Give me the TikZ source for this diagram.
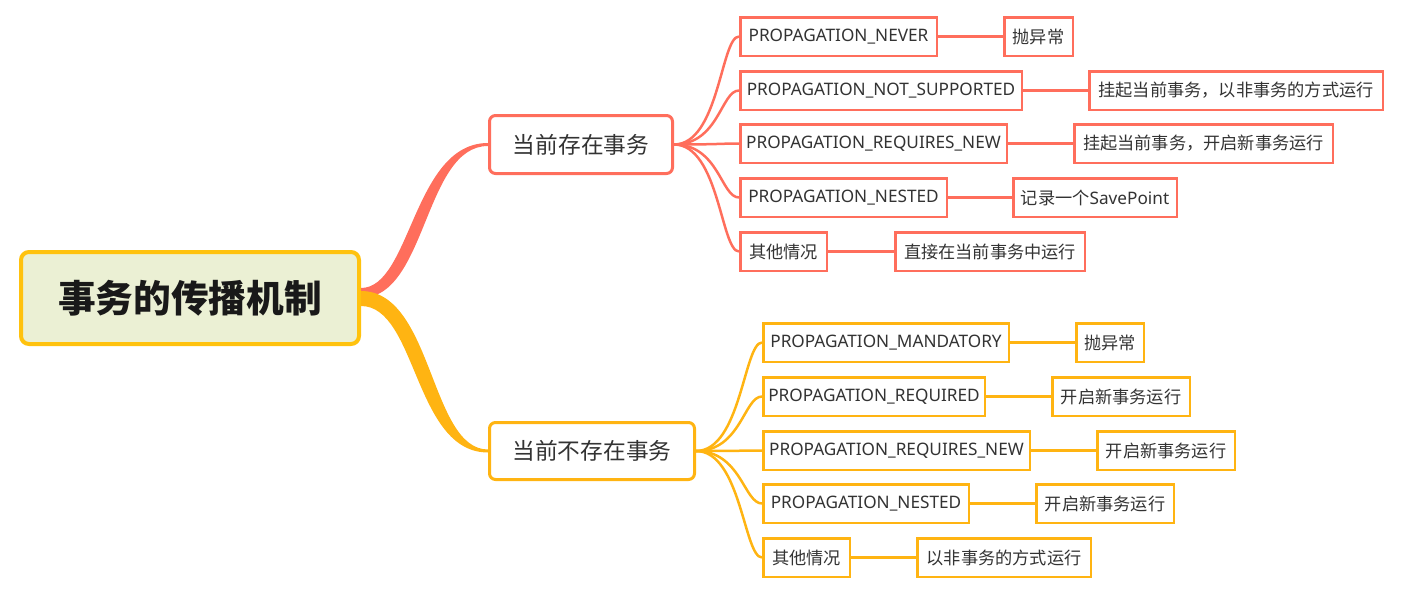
\documentclass[tikz,border=0pt]{standalone}
\usepackage{fontspec}
\setmainfont{Noto Sans}
\newfontfamily\cjk{Noto Sans CJK SC}
\usetikzlibrary{calc}
\definecolor{cred}{HTML}{FF6E5C}
\definecolor{cyel}{HTML}{FFB412}
\definecolor{cgold}{HTML}{FFC20E}
\definecolor{rootfill}{HTML}{EBF0D4}
\definecolor{txt}{HTML}{333333}
\begin{document}
\begin{tikzpicture}[x=1pt,y=-1pt,
  rootbox/.style={draw=cgold, line width=4pt, fill=rootfill, rounded corners=8pt,
    minimum width=338pt, minimum height=92pt, inner sep=0pt, text=black!90,
    font=\cjk\bfseries\fontsize{37.7}{40}\selectfont},
  branch/.style={line width=3pt, fill=white, rounded corners=6pt, inner sep=0pt,
    text=txt, font=\cjk\fontsize{22.7}{26}\selectfont},
  leaf/.style={line width=2.5pt, fill=white, minimum height=38.5pt, inner sep=0pt,
    text=txt, font=\fontsize{17.2}{20}\selectfont, anchor=west},
  cjkleaf/.style={font=\cjk\fontsize{17.2}{20}\selectfont},
  redleaf/.style={leaf, draw=cred},
  yelleaf/.style={leaf, draw=cyel},
  redline/.style={draw=cred, line width=2.5pt},
  yelline/.style={draw=cyel, line width=2.5pt}]
\useasboundingbox (0,0) rectangle (1409,589);

% root and branches
\node[rootbox] (root) at (190,298) {事务的传播机制};
\node[branch, draw=cred, minimum width=183pt, minimum height=58pt] (rb) at (581,144.5) {当前存在事务};
\node[branch, draw=cyel, minimum width=205pt, minimum height=57pt] (yb) at (592,451) {当前不存在事务};

% tapered main connectors
\fill[cred] ($(root.east)+(0,-10)$) .. controls +(50,0) and +(-75,0) .. ($(rb.west)+(0,-1.5)$)
  -- ($(rb.west)+(0,1.5)$) .. controls +(-64,0) and +(66,0) .. ($(root.east)+(0,0)$) -- cycle;
\fill[cyel] ($(root.east)+(0,-7)$) .. controls +(72,0) and +(-58,0) .. ($(yb.west)+(0,-1.5)$)
  -- ($(yb.west)+(0,1.5)$) .. controls +(-74,0) and +(56,0) .. ($(root.east)+(0,8)$) -- cycle;

% red leaves
\node[redleaf, minimum width=196.5pt] (r1) at (739,36.5) {PROPAGATION\_NEVER};
\node[redleaf, minimum width=281.5pt] (r2) at (739,90.5) {PROPAGATION\_NOT\_SUPPORTED};
\node[redleaf, minimum width=266.5pt] (r3) at (739,143.5) {PROPAGATION\_REQUIRES\_NEW};
\node[redleaf, minimum width=206.5pt] (r4) at (739,197.5) {PROPAGATION\_NESTED};
\node[redleaf, cjkleaf, minimum width=86.5pt] (r5) at (739,251.5) {其他情况};

\node[redleaf, cjkleaf, minimum width=68.5pt] (rc1) at (1003,36.5) {抛异常};
\node[redleaf, cjkleaf, minimum width=293.5pt] (rc2) at (1088,90.5) {挂起当前事务，以非事务的方式运行};
\node[redleaf, cjkleaf, minimum width=258.5pt] (rc3) at (1073,143.5) {挂起当前事务，开启新事务运行};
\node[redleaf, minimum width=163.5pt] (rc4) at (1012,197.5) {{\cjk 记录一个}SavePoint};
\node[redleaf, cjkleaf, minimum width=189.5pt] (rc5) at (894,251.5) {直接在当前事务中运行};

% yellow leaves
\node[yelleaf, minimum width=245.5pt] (y1) at (762,342.5) {PROPAGATION\_MANDATORY};
\node[yelleaf, minimum width=221.5pt] (y2) at (762,396.5) {PROPAGATION\_REQUIRED};
\node[yelleaf, minimum width=266.5pt] (y3) at (762,450.5) {PROPAGATION\_REQUIRES\_NEW};
\node[yelleaf, minimum width=205.5pt] (y4) at (762,503.5) {PROPAGATION\_NESTED};
\node[yelleaf, cjkleaf, minimum width=86.5pt] (y5) at (762,557.5) {其他情况};

\node[yelleaf, cjkleaf, minimum width=67.5pt] (yc1) at (1075,342.5) {抛异常};
\node[yelleaf, cjkleaf, minimum width=137.5pt] (yc2) at (1051,396.5) {开启新事务运行};
\node[yelleaf, cjkleaf, minimum width=137.5pt] (yc3) at (1096,450.5) {开启新事务运行};
\node[yelleaf, cjkleaf, minimum width=137.5pt] (yc4) at (1035,503.5) {开启新事务运行};
\node[yelleaf, cjkleaf, minimum width=173.5pt] (yc5) at (916,557.5) {以非事务的方式运行};

% branch to leaf curves
\foreach \n in {r1,r2,r3,r4,r5}
  \draw[redline] (rb.east) .. controls +(45,0) and +(-18,0) .. (\n.west);
\foreach \n in {y1,y2,y3,y4,y5}
  \draw[yelline] (yb.east) .. controls +(45,0) and +(-18,0) .. (\n.west);

% leaf to result lines
\draw[redline] (r1.east) -- (rc1.west);
\draw[redline] (r2.east) -- (rc2.west);
\draw[redline] (r3.east) -- (rc3.west);
\draw[redline] (r4.east) -- (rc4.west);
\draw[redline] (r5.east) -- (rc5.west);
\draw[yelline] (y1.east) -- (yc1.west);
\draw[yelline] (y2.east) -- (yc2.west);
\draw[yelline] (y3.east) -- (yc3.west);
\draw[yelline] (y4.east) -- (yc4.west);
\draw[yelline] (y5.east) -- (yc5.west);
\end{tikzpicture}
\end{document}
